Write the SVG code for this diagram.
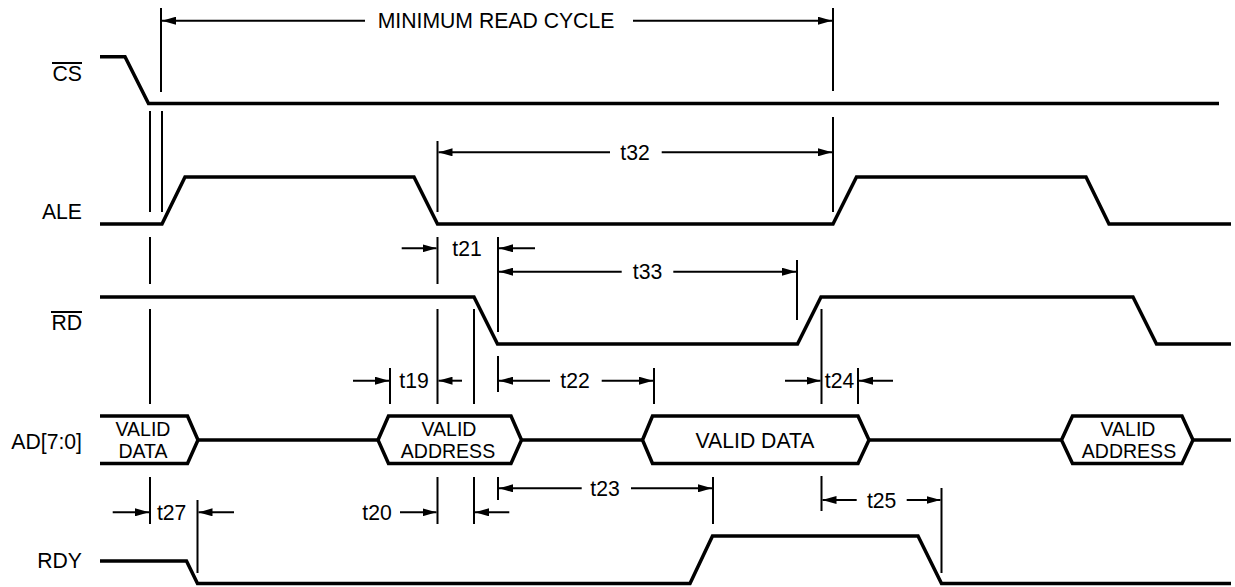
<svg xmlns="http://www.w3.org/2000/svg" width="1235" height="587" viewBox="0 0 1235 587">
<style>
.sig{fill:none;stroke:#000;stroke-width:3.5;stroke-linejoin:miter}
.dim{fill:none;stroke:#000;stroke-width:2}
.arr{fill:none;stroke:#000;stroke-width:2;marker-end:url(#ah)}
text{font-family:"Liberation Sans",Arial,sans-serif;font-size:21.2px;fill:#000}
.lbl{text-anchor:end}
.c{text-anchor:middle}
.h{text-anchor:middle;font-size:19.5px}
</style>
<defs>
<marker id="ah" markerUnits="userSpaceOnUse" markerWidth="14" markerHeight="8" refX="14" refY="4" orient="auto">
<path d="M0,0 L14,4 L0,8 Z" fill="#000"/>
</marker>
</defs>
<rect width="1235" height="587" fill="#fff"/>

<g id="labels">
<text class="lbl" x="82" y="81">CS</text>
<line class="dim" x1="52" y1="63" x2="82" y2="63"/>
<text class="lbl" x="82" y="219">ALE</text>
<text class="lbl" x="82" y="330">RD</text>
<line class="dim" x1="51" y1="312" x2="82" y2="312"/>
<text class="lbl" x="82" y="449">AD[7:0]</text>
<text class="lbl" x="82" y="568">RDY</text>
</g>

<g id="cs">
<polyline class="sig" points="100,56.7 125,56.7 148.5,103.5 1219,103.5"/>
</g>
<g id="ale">
<polyline class="sig" points="100,224 162,224 185,177 414,177 437.5,224 833,224 856.5,177 1086,177 1109,224 1231,224"/>
</g>
<g id="rd">
<polyline class="sig" points="100,297 474,297 497.5,344 797.5,344 821,297 1133,297 1156.5,344 1231,344"/>
</g>
<g id="ad">
<path class="sig" d="M100,416 L187.5,416 L198,440 L187.5,463.5 L100,463.5"/>
<line class="sig" x1="198" y1="440" x2="378" y2="440"/>
<path class="sig" d="M378,440 L388.5,416 L511,416 L521.5,440 L511,463.5 L388.5,463.5 Z"/>
<line class="sig" x1="521.5" y1="440" x2="642.5" y2="440"/>
<path class="sig" d="M642.5,440 L652.5,416 L858,416 L869,440 L858,463.5 L652.5,463.5 Z"/>
<line class="sig" x1="869" y1="440" x2="1061.5" y2="440"/>
<path class="sig" d="M1061.5,440 L1072.5,416 L1182,416 L1193,440 L1182,463.5 L1072.5,463.5 Z"/>
<line class="sig" x1="1193" y1="440" x2="1231" y2="440"/>
<text class="h" x="143" y="436">VALID</text>
<text class="h" x="143" y="458">DATA</text>
<text class="h" x="449" y="436">VALID</text>
<text class="h" x="448" y="458">ADDRESS</text>
<text class="c" x="755" y="447.5">VALID DATA</text>
<text class="h" x="1128" y="436">VALID</text>
<text class="h" x="1129" y="458">ADDRESS</text>
</g>
<g id="rdy">
<polyline class="sig" points="100,561 186.5,561 197.5,583.5 690,583.5 712.5,536 918,536 941.5,583.5 1231,583.5"/>
</g>

<g id="connectors">
<path class="dim" d="M161,8 V92 M833,8 V91 M833,117 V212
M150,111 V212 M162,111 V212 M150,237 V284 M150,309 V404 M150,477 V524
M437.5,141 V212 M437.5,237 V284 M437.5,309 V404 M437.5,477 V524
M498,237 V332 M498,356 V392 M498,477 V500
M797,260 V320 M390,368 V404 M474,309 V404 M474,477 V524
M654,368 V404 M821.5,309 V404 M821.5,476 V511 M858,368 V404
M197.5,500 V573 M713,477 V524 M941.5,488 V573"/>
<line class="arr" x1="365" y1="20.7" x2="162" y2="20.7"/>
<line class="arr" x1="633" y1="20.7" x2="832" y2="20.7"/>
<line class="arr" x1="610" y1="152.3" x2="438.5" y2="152.3"/>
<line class="arr" x1="661.7" y1="152.3" x2="832" y2="152.3"/>
<line class="arr" x1="401.7" y1="248.3" x2="436.5" y2="248.3"/>
<line class="arr" x1="535" y1="248.3" x2="499" y2="248.3"/>
<line class="arr" x1="621.7" y1="271.7" x2="499" y2="271.7"/>
<line class="arr" x1="673.3" y1="271.7" x2="796" y2="271.7"/>
<line class="arr" x1="353" y1="380.7" x2="389" y2="380.7"/>
<line class="arr" x1="462" y1="380.7" x2="438.5" y2="380.7"/>
<line class="arr" x1="550" y1="380.7" x2="499" y2="380.7"/>
<line class="arr" x1="601.7" y1="380.7" x2="653" y2="380.7"/>
<line class="arr" x1="785" y1="380.7" x2="820.5" y2="380.7"/>
<line class="arr" x1="893" y1="380.7" x2="859" y2="380.7"/>
<line class="arr" x1="112.7" y1="512.3" x2="149" y2="512.3"/>
<line class="arr" x1="234" y1="512.3" x2="198.5" y2="512.3"/>
<line class="arr" x1="400" y1="512.3" x2="436.5" y2="512.3"/>
<line class="arr" x1="509.3" y1="512.3" x2="475" y2="512.3"/>
<line class="arr" x1="581.7" y1="488.3" x2="499" y2="488.3"/>
<line class="arr" x1="631" y1="488.3" x2="712" y2="488.3"/>
<line class="arr" x1="856.7" y1="500" x2="822.5" y2="500"/>
<line class="arr" x1="906.7" y1="500" x2="940.5" y2="500"/>
<text class="c" x="496" y="28">MINIMUM READ CYCLE</text>
<text class="c" x="635" y="159.8">t32</text>
<text class="c" x="467" y="255.8">t21</text>
<text class="c" x="647.5" y="279.2">t33</text>
<text class="c" x="414" y="388.2">t19</text>
<text class="c" x="575" y="388.2">t22</text>
<text class="c" x="839.5" y="388.2">t24</text>
<text class="c" x="171.7" y="519.8">t27</text>
<text class="c" x="377" y="519.8">t20</text>
<text class="c" x="605" y="495.8">t23</text>
<text class="c" x="881.7" y="507.5">t25</text>
</g>
</svg>
